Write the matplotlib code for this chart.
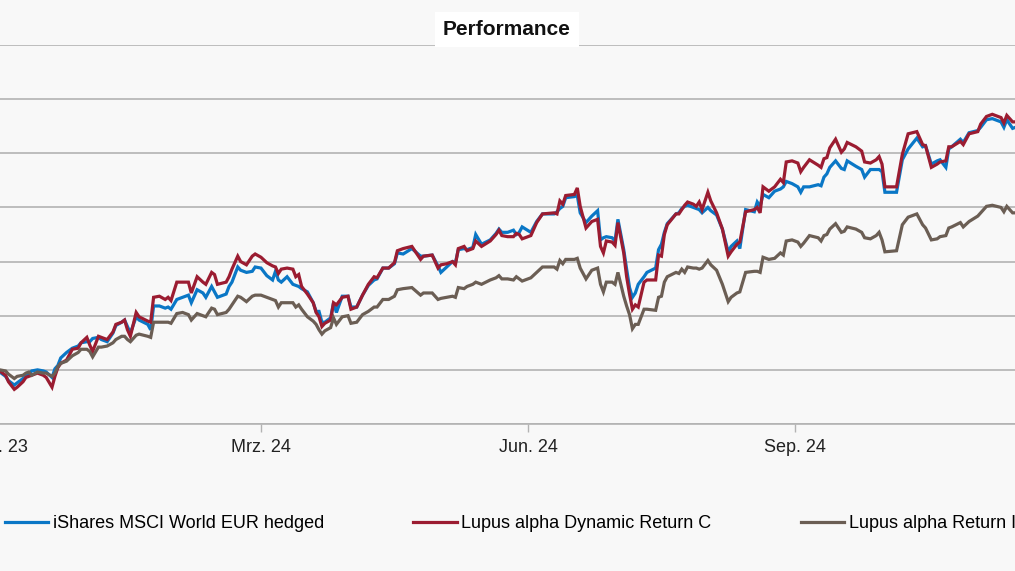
import pandas as pd
import matplotlib
matplotlib.use("Agg")
import matplotlib.pyplot as plt
from matplotlib import font_manager

# font choice: narrow sans if present
avail = {f.name for f in font_manager.fontManager.ttflist}
fam = "Liberation Sans Narrow" if "Liberation Sans Narrow" in avail else "Liberation Sans"
plt.rcParams["font.family"] = [fam, "DejaVu Sans"]

# data (index, start = 100), days counted from 2023-12-01
start = pd.Timestamp("2023-12-01")
days = [1, 3, 4, 6, 7, 9, 10, 11, 12, 14, 16, 17, 19, 20, 21, 22, 24, 26, 28, 29,
        31, 32, 33, 35, 36, 38, 40, 41, 43, 44, 45, 46, 48, 49, 52, 53, 54, 56, 58, 59,
        60, 62, 64, 66, 67, 69, 71, 72, 74, 75, 76, 79, 80, 81, 83, 84, 86, 88, 89, 91,
        93, 95, 96, 97, 98, 100, 102, 103, 104, 105, 107, 109, 110, 111, 112, 113, 115, 116, 117, 119,
        121, 122, 124, 126, 128, 130, 131, 133, 135, 137, 138, 140, 143, 146, 147, 150, 152, 153, 155, 157,
        158, 159, 161, 162, 164, 165, 167, 170, 172, 173, 174, 176, 178, 179, 180, 181, 184, 186, 188, 192,
        193, 194, 195, 196, 199, 200, 201, 203, 205, 207, 208, 209, 210, 212, 213, 214, 216, 217, 218, 219,
        220, 221, 223, 224, 227, 228, 229, 230, 231, 234, 235, 236, 237, 238, 240, 241, 242, 243, 245, 246,
        248, 250, 252, 253, 255, 256, 258, 261, 262, 263, 264, 266, 268, 270, 271, 272, 274, 276, 277, 278,
        280, 283, 284, 285, 286, 287, 289, 291, 292, 293, 296, 298, 299, 301, 303, 304, 305, 306, 310, 312,
        314, 317, 319, 320, 322, 324, 325, 327, 328, 329, 332, 333, 335, 338, 339, 341, 343, 346, 347, 348,
        350, 351]

ishares = [99.8, 99.4, 99.0, 98.6, 98.8, 99.2, 99.4, 99.6, 99.9, 100.0, 99.9, 99.8, 99.3, 100.1, 100.4, 101.1, 101.6, 102.0, 102.2, 102.5,
           102.6, 102.6, 102.9, 103.0, 102.8, 102.6, 103.4, 104.1, 104.4, 104.6, 104.0, 103.4, 104.9, 104.6, 104.2, 103.7, 105.9, 105.9, 105.7, 105.8,
           105.6, 106.5, 106.7, 106.9, 106.2, 107.4, 107.1, 106.7, 107.7, 107.2, 106.7, 107.0, 107.7, 108.1, 109.5, 109.2, 109.0, 109.1, 109.5, 109.4,
           108.7, 108.3, 109.1, 108.3, 108.1, 108.6, 107.9, 107.8, 107.7, 107.5, 107.2, 106.2, 105.4, 105.4, 104.4, 104.4, 104.8, 106.2, 105.3, 106.8,
           106.8, 105.8, 105.8, 106.9, 107.8, 108.3, 108.4, 109.4, 109.4, 109.8, 110.8, 110.7, 111.2, 110.5, 110.5, 110.6, 109.6, 109.0, 109.5, 110.0,
           109.9, 111.1, 111.2, 111.1, 111.3, 112.5, 111.6, 112.0, 112.6, 113.0, 112.7, 112.7, 112.9, 112.5, 112.7, 113.2, 112.7, 113.7, 114.4, 114.4,
           114.6, 114.9, 115.1, 115.9, 116.0, 116.1, 114.5, 113.6, 114.2, 114.7, 112.0, 112.2, 112.3, 112.2, 111.9, 113.9, 111.1, 109.3, 107.6, 106.7,
           107.1, 107.9, 108.6, 109.0, 109.4, 111.1, 111.6, 112.7, 113.5, 114.4, 114.5, 114.9, 115.1, 115.2, 115.0, 114.9, 114.8, 114.5, 115.0, 114.7,
           114.3, 113.0, 110.9, 111.4, 111.9, 111.2, 114.8, 114.6, 115.5, 115.1, 116.2, 115.9, 116.5, 116.7, 116.9, 117.4, 117.2, 116.9, 116.4, 116.9,
           116.9, 117.1, 117.0, 117.8, 118.1, 118.7, 119.3, 118.6, 118.5, 119.3, 118.8, 118.5, 117.8, 118.5, 118.5, 118.5, 118.3, 116.4, 116.4, 119.4,
           120.4, 121.4, 120.6, 120.7, 119.0, 119.3, 119.4, 118.7, 120.4, 120.6, 121.3, 121.0, 121.9, 122.1, 122.4, 123.1, 123.2, 122.9, 122.4, 123.1,
           122.3, 122.4]

dynamic_c = [99.9, 99.5, 98.9, 98.2, 98.4, 98.9, 99.3, 99.4, 99.5, 99.7, 99.5, 99.3, 98.4, 99.4, 100.2, 100.6, 100.9, 101.9, 102.0, 102.5,
             103.0, 102.3, 101.7, 103.1, 103.0, 102.8, 103.5, 104.2, 104.4, 104.6, 103.7, 103.1, 105.3, 104.9, 104.5, 104.4, 106.7, 106.8, 106.5, 106.7,
             106.4, 108.1, 108.1, 108.1, 107.1, 108.6, 108.1, 107.9, 109.0, 108.8, 107.9, 108.1, 108.6, 109.3, 110.5, 110.0, 109.7, 110.5, 110.7, 110.4,
             109.9, 109.6, 109.5, 108.9, 109.3, 109.4, 109.3, 108.6, 108.8, 107.7, 107.0, 106.2, 105.3, 104.9, 104.0, 104.3, 104.6, 106.2, 106.0, 106.7,
             106.8, 105.6, 105.8, 106.9, 107.9, 108.6, 108.5, 109.4, 109.4, 109.9, 111.0, 111.2, 111.4, 110.2, 110.5, 110.6, 109.4, 109.7, 109.8, 110.0,
             109.7, 111.2, 111.4, 111.0, 111.2, 111.9, 111.4, 111.9, 112.5, 112.9, 112.4, 112.3, 112.3, 112.6, 112.5, 112.1, 112.4, 113.6, 114.4, 114.5,
             114.4, 115.6, 115.3, 116.1, 116.2, 116.8, 115.1, 113.1, 113.7, 113.9, 111.4, 110.8, 111.9, 111.8, 111.5, 113.6, 110.8, 108.6, 107.0, 105.6,
             106.0, 105.8, 108.1, 108.3, 108.3, 110.6, 110.5, 112.5, 113.4, 114.4, 114.4, 114.8, 115.2, 115.5, 115.3, 115.1, 115.5, 114.8, 116.4, 115.6,
             114.5, 113.0, 110.5, 110.9, 111.6, 111.8, 114.6, 114.8, 115.0, 114.5, 116.9, 116.5, 116.9, 117.6, 117.3, 119.2, 119.3, 119.1, 118.3, 118.7,
             119.4, 118.9, 118.7, 119.5, 119.6, 120.5, 121.3, 120.1, 120.4, 121.0, 120.6, 120.2, 119.2, 119.1, 119.4, 119.7, 119.0, 116.9, 116.9, 119.9,
             121.8, 122.0, 120.8, 120.7, 118.7, 119.0, 119.2, 119.3, 120.6, 120.6, 121.1, 120.8, 121.8, 122.0, 122.7, 123.4, 123.6, 123.3, 122.8, 123.5,
             122.9, 122.9]

return_i = [100.0, 99.9, 99.6, 99.2, 99.4, 99.5, 99.7, 99.8, 99.5, 99.8, 99.7, 99.7, 99.4, 99.7, 100.3, 100.6, 100.8, 101.3, 101.6, 101.9,
            101.9, 101.7, 101.2, 102.1, 102.1, 102.2, 102.5, 102.8, 103.1, 103.1, 102.8, 102.6, 103.2, 103.3, 103.1, 103.0, 104.4, 104.4, 104.4, 104.4,
            104.3, 105.2, 105.3, 105.1, 104.6, 105.2, 105.0, 104.9, 105.7, 105.6, 105.1, 105.3, 105.6, 106.0, 106.8, 106.7, 106.3, 106.8, 106.9, 106.9,
            106.7, 106.5, 106.4, 105.8, 106.2, 106.2, 106.2, 105.8, 106.0, 105.6, 104.9, 104.5, 104.2, 103.7, 103.3, 103.6, 103.9, 104.8, 104.2, 104.9,
            105.0, 104.3, 104.4, 105.1, 105.4, 105.8, 105.8, 106.5, 106.5, 106.8, 107.4, 107.5, 107.6, 106.9, 107.1, 107.1, 106.5, 106.6, 106.7, 106.8,
            106.7, 107.6, 107.5, 107.7, 107.9, 108.1, 107.9, 108.3, 108.5, 108.7, 108.4, 108.4, 108.3, 108.6, 108.4, 108.2, 108.5, 109.0, 109.5, 109.5,
            109.3, 110.1, 109.8, 110.2, 110.2, 110.3, 109.4, 108.4, 109.2, 109.4, 107.9, 107.2, 108.1, 108.1, 107.9, 109.0, 106.8, 105.9, 105.1, 103.8,
            104.2, 104.2, 105.6, 105.6, 105.5, 106.7, 106.8, 108.1, 108.6, 109.0, 108.9, 109.3, 109.0, 109.5, 109.4, 109.4, 109.3, 109.4, 110.1, 109.7,
            109.2, 107.9, 106.3, 106.7, 107.1, 107.2, 109.0, 109.1, 109.1, 109.0, 110.4, 110.2, 110.3, 110.8, 110.6, 111.9, 112.0, 111.8, 111.4, 111.7,
            112.4, 112.2, 111.9, 112.4, 112.5, 113.0, 113.5, 112.7, 112.8, 113.2, 113.0, 112.7, 112.2, 112.1, 112.4, 112.7, 112.0, 110.9, 111.0, 113.4,
            114.1, 114.4, 113.4, 113.1, 112.0, 112.1, 112.3, 112.4, 113.1, 113.2, 113.6, 113.2, 113.7, 114.2, 114.5, 115.1, 115.2, 115.0, 114.6, 115.1,
            114.5, 114.5]

names = ["iShares MSCI World EUR hedged", "Lupus alpha Dynamic Return C", "Lupus alpha Return I"]
colors = ["#0a77c6", "#9b1c31", "#6b5e54"]

tick_dates = ["2023-12-01", "2024-03-01", "2024-06-01", "2024-09-01"]
tick_labels = ["Dez. 23", "Mrz. 24", "Jun. 24", "Sep. 24"]
y_grid = [95, 100, 105, 110, 115, 120, 125, 130]

dates = start + pd.to_timedelta(days, unit="D")
bg = "#f8f8f8"

fig = plt.figure(figsize=(10.15, 5.71), dpi=100, facecolor=bg)
# the chart is a crop of a wider one: axes run past both figure edges
ax = fig.add_axes([-60 / 1015, 147 / 571, 1135 / 1015, 379 / 571])
ax.set_facecolor(bg)

for vals, name, col in zip([ishares, dynamic_c, return_i], names, colors):
    ax.plot(dates, vals, color=col, lw=2.3, label=name, solid_joinstyle="miter")

ax.set_xlim(start + pd.Timedelta(days=-19.6), start + pd.Timedelta(days=371.5))
ax.set_ylim(95, 130)
ax.set_yticks(y_grid)
ax.yaxis.grid(True, color="#b3b3b3", lw=1.2)
ax.set_axisbelow(True)
ax.tick_params(axis="y", left=False, labelleft=False)

ax.set_xticks(pd.to_datetime(tick_dates))
ax.set_xticklabels(tick_labels, fontsize=13)
ax.tick_params(axis="x", length=6, width=1, color="#b3b3b3", pad=5, labelcolor="#222222")

for s in ["top", "left", "right"]:
    ax.spines[s].set_visible(False)
ax.spines["bottom"].set_color("#b3b3b3")
ax.spines["bottom"].set_linewidth(1.2)

fig.text(507 / 1015, 1 - 29.5 / 571, "Performance", ha="center", va="center",
         fontsize=15, fontweight="bold", color="#111111",
         bbox=dict(facecolor="white", edgecolor="none", pad=5.5))

fig.legend(loc="center left", bbox_to_anchor=(5 / 1015, 1 - 524 / 571), ncol=3,
           frameon=False, fontsize=13, handlelength=2.4, handletextpad=0.25,
           columnspacing=4.95, borderpad=0, borderaxespad=0)

fig.savefig("out.png", dpi=100, facecolor=bg)
